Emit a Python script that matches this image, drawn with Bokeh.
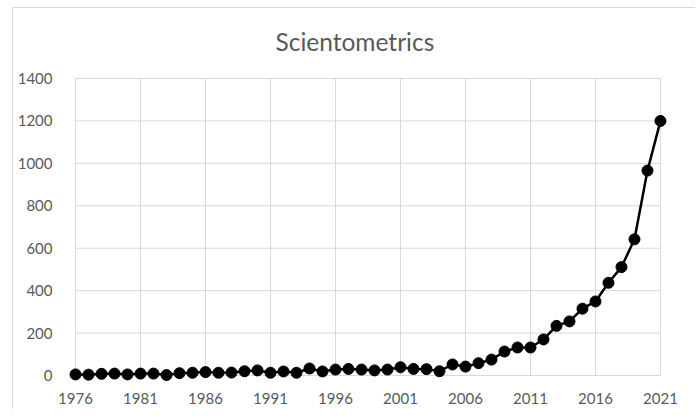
from bokeh.plotting import figure
from bokeh.models import FixedTicker, Range1d, ColumnDataSource
from bokeh.embed import file_html
from bokeh.resources import INLINE

years = list(range(1976, 2022))
counts = [5, 4, 8, 9, 5, 9, 9, 2, 11, 13,
          16, 13, 14, 20, 24, 13, 19, 13, 33, 19,
          28, 31, 28, 24, 28, 39, 31, 30, 20, 52,
          42, 58, 75, 113, 132, 132, 170, 234, 255, 315,
          349, 437, 511, 642, 966, 1200]
x_ticks = [1976, 1981, 1986, 1991, 1996, 2001, 2006, 2011, 2016, 2021]
y_ticks = [0, 200, 400, 600, 800, 1000, 1200, 1400]
title_text = "Scientometrics"

FONT = "Lato"
TXT = "#595959"
GRID = "#d9d9d9"

p = figure(width=683, height=402, output_backend="svg", toolbar_location=None,
           x_range=Range1d(1975.46, 2021.54), y_range=Range1d(-28.3, 1428.3),
           min_border_left=55, min_border_right=29, min_border_top=64, min_border_bottom=29)
p.styles = {"margin-left": "12px", "margin-top": "7px",
            "border-left": "1px solid #d9d9d9", "border-top": "1px solid #d9d9d9"}
p.outline_line_color = None
p.xgrid.visible = False
p.ygrid.visible = False

p.title.text = title_text
p.title.text_font = FONT
p.title.text_font_size = "24.5px"
p.title.text_font_style = "normal"
p.title.text_color = TXT
p.title.align = "left"
p.title.offset = 207
p.title.standoff = 33

# gridlines limited to the data extent
p.segment(x0=[years[0]] * len(y_ticks), x1=[years[-1]] * len(y_ticks), y0=y_ticks, y1=y_ticks,
          line_color=GRID, line_width=1)
p.segment(x0=x_ticks, x1=x_ticks, y0=[y_ticks[0]] * len(x_ticks), y1=[y_ticks[-1]] * len(x_ticks),
          line_color=GRID, line_width=1)

src = ColumnDataSource(dict(year=years, count=counts))
p.line("year", "count", source=src, line_color="black", line_width=2.5)
p.scatter("year", "count", source=src, size=11, fill_color="black", line_color="black")

for ax in (p.xaxis[0], p.yaxis[0]):
    ax.axis_line_color = None
    ax.major_tick_line_color = None
    ax.minor_tick_line_color = None
    ax.major_label_text_font = FONT
    ax.major_label_text_font_size = "15px"
    ax.major_label_text_color = TXT
p.xaxis.ticker = FixedTicker(ticks=x_ticks)
p.yaxis.ticker = FixedTicker(ticks=y_ticks)
p.xaxis.major_label_standoff = 5
p.yaxis.major_label_standoff = 10

open("out.html", "w").write(file_html(p, INLINE))
